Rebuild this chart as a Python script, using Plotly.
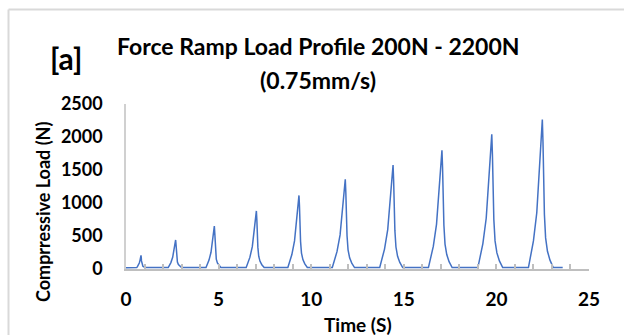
import plotly.graph_objects as go

# Time (s) and compressive load (N), one row per load cycle
time_s = [
    0.00,
    0.58, 0.617, 0.663, 0.718, 0.759, 0.787, 0.81, 0.823, 0.836, 0.852, 0.876, 0.913, 0.964, 1.03,
    2.28, 2.344, 2.424, 2.52, 2.592, 2.64, 2.68, 2.699, 2.718, 2.741, 2.776, 2.830, 2.904, 3.00,
    4.32, 4.392, 4.482, 4.59, 4.671, 4.725, 4.77, 4.791, 4.812, 4.837, 4.875, 4.935, 5.015, 5.12,
    6.49, 6.578, 6.688, 6.82, 6.919, 6.985, 7.04, 7.065, 7.090, 7.120, 7.166, 7.237, 7.334, 7.46,
    8.74, 8.836, 8.956, 9.10, 9.208, 9.28, 9.34, 9.367, 9.394, 9.426, 9.475, 9.552, 9.655, 9.79,
    11.14, 11.252, 11.392, 11.56, 11.686, 11.77, 11.84, 11.87, 11.90, 11.935, 11.99, 12.075, 12.19, 12.34,
    13.70, 13.815, 13.959, 14.132, 14.262, 14.348, 14.42, 14.451, 14.482, 14.519, 14.576, 14.664, 14.784, 14.94,
    16.33, 16.447, 16.593, 16.768, 16.899, 16.987, 17.06, 17.093, 17.126, 17.165, 17.225, 17.319, 17.445, 17.61,
    19.00, 19.12, 19.27, 19.45, 19.585, 19.675, 19.75, 19.785, 19.821, 19.862, 19.927, 20.027, 20.163, 20.34,
    21.73, 21.85, 22.00, 22.18, 22.315, 22.405, 22.48, 22.515, 22.551, 22.592, 22.657, 22.757, 22.893, 23.07,
    23.58,
]
load_n = [
    20,
    22, 35, 55, 90, 135, 176, 205, 178, 123, 88, 59, 42, 31, 22,
    22, 51, 97, 177, 281, 373, 440, 377, 252, 172, 106, 68, 43, 22,
    22, 66, 135, 254, 411, 550, 650, 556, 367, 248, 148, 91, 53, 22,
    22, 82, 176, 339, 554, 743, 880, 751, 494, 331, 194, 116, 65, 22,
    22, 99, 219, 426, 700, 940, 1115, 951, 623, 415, 241, 142, 77, 22,
    22, 116, 263, 517, 852, 1146, 1360, 1159, 758, 504, 290, 169, 89, 22,
    22, 131, 302, 597, 985, 1327, 1575, 1342, 876, 581, 333, 193, 100, 22,
    22, 146, 342, 680, 1124, 1516, 1800, 1533, 1000, 662, 378, 218, 111, 22,
    22, 163, 385, 769, 1273, 1717, 2040, 1737, 1132, 748, 426, 244, 123, 22,
    22, 179, 426, 852, 1413, 1906, 2265, 1929, 1256, 829, 471, 269, 134, 22,
    22,
]

x_ticks = [0, 5, 10, 15, 20, 25]
y_ticks = [0, 500, 1000, 1500, 2000, 2500]

title_line1 = "Force Ramp Load Profile 200N - 2200N"
title_line2 = "(0.75mm/s)"
panel_label = "[a]"
x_title = "Time (S)"
y_title = "Comprressive Load (N)"

W, H = 624, 335
L, R, T, B = 126, 35, 104, 66
PW, PH = W - L - R, H - T - B


def px(xp):
    return (xp - L) / PW


def py(yp):
    return (H - B - yp) / PH


FONT = "Lato"

fig = go.Figure()
fig.add_trace(go.Scatter(
    x=time_s, y=load_n, mode="lines",
    line=dict(color="#4472C4", width=1.5),
    showlegend=False, hoverinfo="skip",
))

fig.update_layout(
    width=W, height=H,
    margin=dict(l=L, r=R, t=T, b=B, autoexpand=False),
    paper_bgcolor="white", plot_bgcolor="white",
    font=dict(family=FONT, color="black"),
    xaxis=dict(
        range=[0, 25], tickvals=x_ticks, showgrid=False, zeroline=False,
        showline=True, linecolor="#bfbfbf", linewidth=1.5,
        ticks="inside", ticklen=5, tickcolor="#bfbfbf", tickwidth=1.5,
        minor=dict(dtick=1, ticks="inside", ticklen=5, tickcolor="#bfbfbf", tickwidth=1.5, showgrid=False),
        tickfont=dict(family=FONT, size=19, color="black", weight="bold"),
        ticklabelstandoff=12, automargin=False,
        fixedrange=True,
    ),
    yaxis=dict(
        range=[0, 2500], tickvals=y_ticks, showgrid=False, zeroline=False,
        showline=True, linecolor="#d0d0d0", linewidth=1.5, ticks="",
        tickfont=dict(family=FONT, size=18, color="black", weight="bold"),
        ticklabelstandoff=18, automargin=False,
        fixedrange=True,
    ),
    annotations=[
        dict(text=title_line1, xref="paper", yref="paper", x=px(318), y=py(46),
             xanchor="center", yanchor="middle", showarrow=False,
             font=dict(family=FONT, size=23, color="black", weight="bold")),
        dict(text=title_line2, xref="paper", yref="paper", x=px(318), y=py(80),
             xanchor="center", yanchor="middle", showarrow=False,
             font=dict(family=FONT, size=23, color="black", weight="bold")),
        dict(text=panel_label, xref="paper", yref="paper", x=px(66), y=py(58),
             xanchor="center", yanchor="middle", showarrow=False,
             font=dict(family=FONT, size=30, color="black", weight="bold")),
        dict(text=y_title, xref="paper", yref="paper", x=px(43), y=py(212),
             xanchor="center", yanchor="middle", showarrow=False, textangle=-90,
             font=dict(family=FONT, size=18, color="black", weight="bold")),
        dict(text=x_title, xref="paper", yref="paper", x=px(357.5), y=py(324),
             xanchor="center", yanchor="middle", showarrow=False,
             font=dict(family=FONT, size=19, color="black", weight="bold")),
    ],
    shapes=[
        dict(type="line", xref="paper", yref="paper", x0=px(8.5), x1=px(W + 5), y0=py(9.5), y1=py(9.5),
             line=dict(color="#d9d9d9", width=2)),
        dict(type="line", xref="paper", yref="paper", x0=px(8.5), x1=px(8.5), y0=py(9.5), y1=py(H + 5),
             line=dict(color="#d9d9d9", width=2)),
    ],
)

fig.write_html("out.html")
